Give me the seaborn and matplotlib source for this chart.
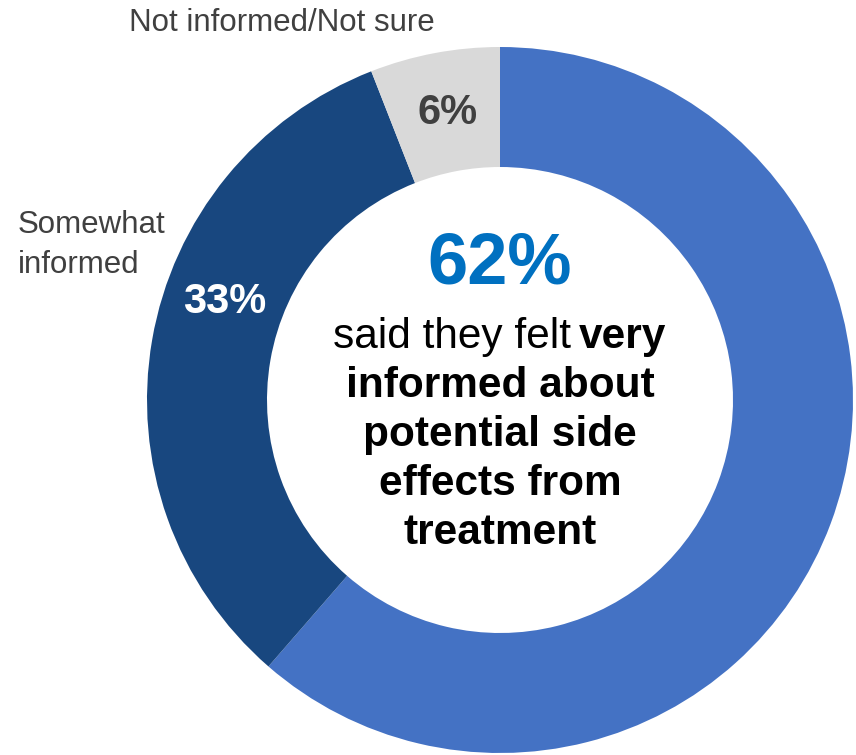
import matplotlib
matplotlib.use("Agg")
import matplotlib.pyplot as plt
import seaborn as sns

# survey answers, clockwise from 12 o'clock
categories = ["Very informed", "Somewhat informed", "Not informed/Not sure"]
shares = [62, 33, 6]
share_labels = ["62%", "33%", "6%"]
colors = ["#4472C4", "#18477F", "#D9D9D9"]

sns.set_theme(style="white")
plt.rcParams["font.family"] = ["Liberation Sans", "DejaVu Sans"]

W, H = 856, 755
fig = plt.figure(figsize=(W / 100, H / 100), dpi=100)
ax = fig.add_axes([0, 0, 1, 1])

# donut, working in pixel units (y up)
cx, cy, r_out, ring = 500, H - 400, 353, 120
ax.pie(shares, colors=colors, startangle=90, counterclock=False,
       radius=r_out, center=(cx, cy), frame=True,
       wedgeprops=dict(width=ring, linewidth=0))
ax.set_xlim(0, W)
ax.set_ylim(0, H)
ax.set_aspect("auto")
ax.axis("off")

grey = "#404040"

def px(x, y):
    return x, H - y

# slice value labels
ax.text(*px(448, 113), share_labels[2], ha="center", va="center",
        fontsize=30, fontweight="bold", color=grey)
ax.text(*px(225, 302), share_labels[1], ha="center", va="center",
        fontsize=30, fontweight="bold", color="white")

# category labels outside the ring
ax.text(*px(282, 23), categories[2], ha="center", va="center",
        fontsize=22.5, color=grey)
ax.text(*px(18, 245), "Somewhat\ninformed", ha="left", va="center",
        fontsize=22.5, color=grey, linespacing=1.4)

# centre annotation
ax.text(*px(500, 265), share_labels[0], ha="center", va="center",
        fontsize=52, fontweight="bold", color="#0070C0")
ax.text(*px(571, 337), "said they felt", ha="right", va="center",
        fontsize=30.5, color="black")
ax.text(*px(579, 337), "very", ha="left", va="center",
        fontsize=30.5, fontweight="bold", color="black")
body = ["informed about", "potential side", "effects from", "treatment"]
for i, line in enumerate(body):
    ax.text(*px(500, 386 + 49 * i), line, ha="center", va="center",
            fontsize=30.5, fontweight="bold", color="black")

fig.savefig("out.png", dpi=100, facecolor="white")
